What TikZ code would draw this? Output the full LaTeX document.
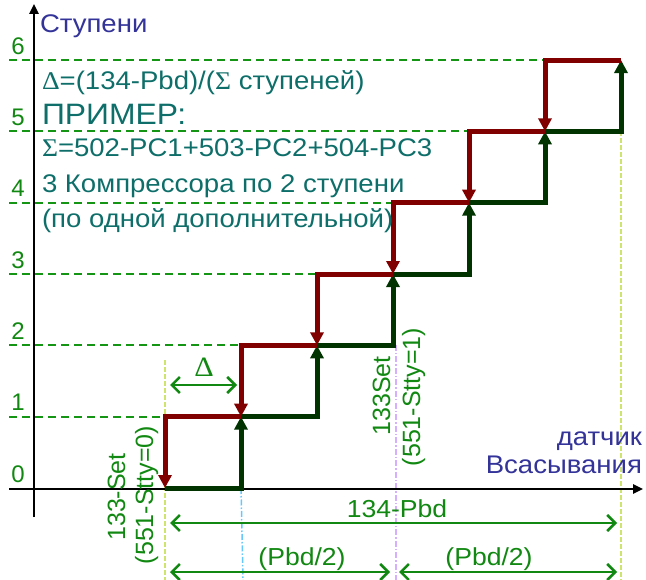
\documentclass[tikz,border=0pt]{standalone}
\usepackage{fontspec}
\setmainfont{Liberation Sans}[FakeStretch=1.08]
\newfontfamily\plainsans{Liberation Sans}
\newfontfamily\grserif{Liberation Serif}[FakeStretch=1.08]
\usetikzlibrary{arrows.meta}
\definecolor{lvlgreen}{RGB}{20,150,20}
\definecolor{lblgreen}{RGB}{17,136,17}
\definecolor{pathred}{RGB}{128,0,0}
\definecolor{pathgreen}{RGB}{0,51,0}
\definecolor{tealtxt}{RGB}{14,110,105}
\definecolor{indigotxt}{RGB}{51,51,153}
\definecolor{guideyel}{RGB}{205,228,110}
\definecolor{guidecyan}{RGB}{100,200,255}
\definecolor{guideviol}{RGB}{215,175,255}
\begin{document}
\begin{tikzpicture}[x=1pt,y=-1pt,
  every node/.style={inner sep=0pt,outer sep=0pt},
  lvlline/.style={draw=lvlgreen,line width=2pt,dash pattern=on 8pt off 5pt},
  lvllabel/.style={text=lblgreen,font=\plainsans\fontsize{24}{28}\selectfont},
  guide/.style={line width=1.5pt,dash pattern=on 5pt off 2pt},
  axisline/.style={draw=black,line width=2.4pt},
  redstep/.style={draw=pathred,line width=5pt,line join=miter,-{Triangle[width=13pt,length=13pt]}},
  greenstep/.style={draw=pathgreen,line width=5pt,line join=miter,-{Triangle[width=13pt,length=13pt]}},
  dimarrow/.style={draw=lblgreen,line width=2.5pt,{Straight Barb[length=8pt,width=16pt]}-{Straight Barb[length=8pt,width=16pt]}},
  greentxt/.style={text=lblgreen,font=\fontsize{24.6}{30}\selectfont},
  rottxt/.style={text=lblgreen,font=\plainsans\fontsize{25}{30}\selectfont,rotate=90,anchor=base},
  tealline/.style={text=tealtxt,anchor=base west,font=\fontsize{25.5}{30}\selectfont},
  bluetxt/.style={text=indigotxt,font=\fontsize{25.5}{30}\selectfont}
]
\useasboundingbox (0,0) rectangle (646,580);

% grid of step corners
\foreach \i in {0,...,6}{
  \foreach \j in {0,...,6}{
    \coordinate (p\i\j) at ({165+76*\i},{488-71.33*\j});
  }
}

% horizontal dashed level lines and labels
\foreach \j in {1,...,6}{
  \pgfmathtruncatemacro\k{\j-1}
  \coordinate (L\j) at (9,{488-71.33*\j});
  \draw[lvlline] (L\j) -- (p\k\j);
  \node[lvllabel] (lab\j) at (18,{488-71.33*\j-14}) {\j};
}
\node[lvllabel] (lab0) at (18,474) {0};

% vertical guides
\coordinate (g0b) at (165,580);
\coordinate (g0t) at (165,360);
\coordinate (g1b) at (243,580);
\coordinate (g3b) at (396,580);
\coordinate (g3t) at (396,345);
\coordinate (g6b) at (621,580);
\draw[guide,draw=guideyel] (g0t) -- (g0b);
\draw[guide,draw=guidecyan,dash pattern=on 6pt off 2pt on 1.5pt off 2pt] (p10) -- (g1b);
\draw[guide,draw=guideviol,dash pattern=on 6pt off 2pt on 1.5pt off 2pt] (g3t) -- (g3b);
\draw[guide,draw=guideyel] (p65) -- (g6b);

% axes
\coordinate (xa0) at (9,489);
\coordinate (xa1) at (643,489);
\coordinate (ya0) at (34,517);
\coordinate (ya1) at (34,4);
\draw[axisline,-{Triangle[width=9pt,length=10pt]}] (xa0) -- (xa1);
\draw[axisline,-{Triangle[width=9pt,length=10pt]}] (ya0) -- (ya1);

% step paths
\foreach \i in {1,...,6}{
  \pgfmathtruncatemacro\k{\i-1}
  \draw[greenstep] (p\k\k) -- (p\i\k) -- (p\i\i);
}
\foreach \i in {6,...,1}{
  \pgfmathtruncatemacro\k{\i-1}
  \draw[redstep] (p\i\i) -- (p\k\i) -- (p\k\k);
}

% axis titles
\node[bluetxt,anchor=base west] (ytitle) at (40,33) {Ступени};
\node[bluetxt,anchor=base east] (xt1) at (642,445) {датчик};
\node[bluetxt,anchor=base east] (xt2) at (642,473) {Всасывания};

% text block
\node[tealline] (t1) at (42,90) {{\grserif Δ}=(134-Pbd)/({\grserif Σ} ступеней)};
\node[tealline,font=\fontsize{29.5}{34}\selectfont] (t2) at (42,125) {ПРИМЕР:};
\node[tealline] (t3) at (42,157) {{\grserif Σ}=502-PC1+503-PC2+504-PC3};
\node[tealline] (t4) at (42,193) {3 Компрессора по 2 ступени};
\node[tealline] (t5) at (42,228) {(по одной дополнительной)};

% delta dimension
\coordinate (d0) at (170,385);
\coordinate (d1) at (237,385);
\draw[dimarrow] (d0) -- (d1);
\node[text=lblgreen,font=\grserif\fontsize{28}{34}\selectfont] (dl) at (204,367) {Δ};

% bottom dimensions
\coordinate (b0) at (170,523);
\coordinate (b1) at (617,523);
\draw[dimarrow] (b0) -- (b1);
\node[greentxt,anchor=base] (bl) at (397,517) {134-Pbd};
\coordinate (h0) at (170,572);
\coordinate (h1) at (390,572);
\coordinate (h2) at (399,572);
\coordinate (h3) at (617,572);
\draw[dimarrow] (h0) -- (h1);
\draw[dimarrow] (h2) -- (h3);
\node[greentxt,anchor=base] (hl1) at (302,565) {(Pbd/2)};
\node[greentxt,anchor=base] (hl2) at (489,565) {(Pbd/2)};

% rotated labels
\node[rottxt] (r1) at (125,497) {133-Set};
\node[rottxt] (r2) at (153,495) {(551-Stty=0)};
\node[rottxt] (r3) at (390,396) {133Set};
\node[rottxt] (r4) at (420,397) {(551-Stty=1)};
\end{tikzpicture}
\end{document}
